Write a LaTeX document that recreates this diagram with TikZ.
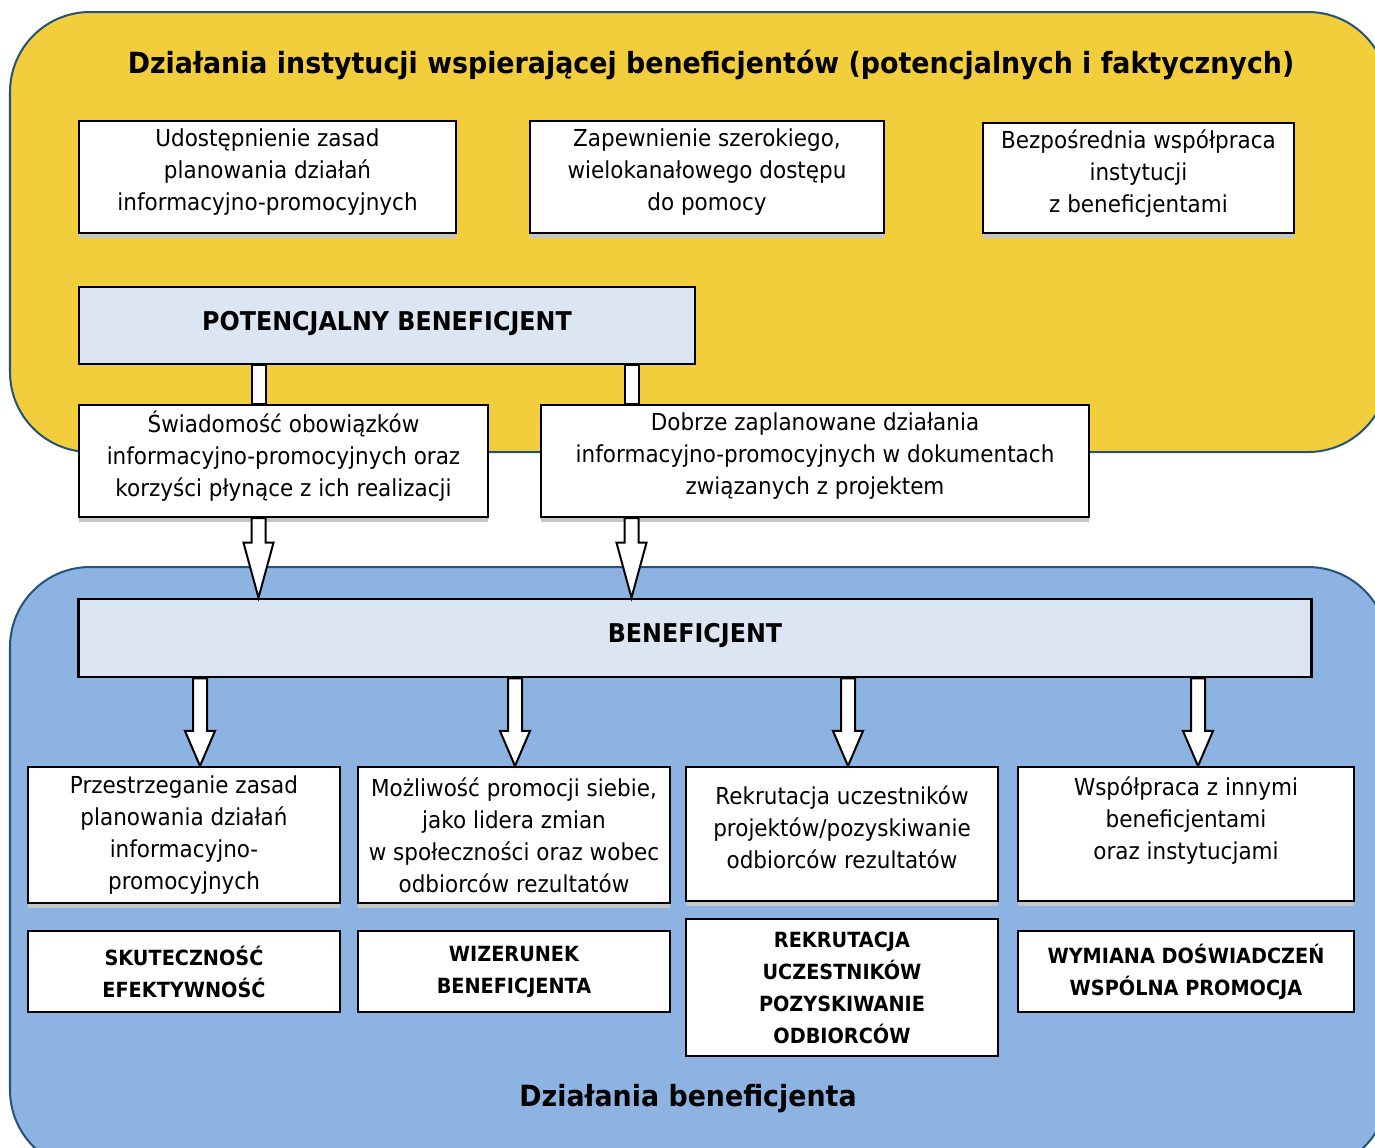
\documentclass[tikz,border=0pt]{standalone}
\usepackage{fontspec}
\setmainfont[FakeStretch=0.92]{DejaVu Sans}
\usetikzlibrary{calc,shadows}

\definecolor{zolty}{RGB}{242,206,60}
\definecolor{niebieski}{RGB}{141,179,226}
\definecolor{jasny}{RGB}{220,230,242}
\definecolor{ramka}{RGB}{36,82,122}

\tikzset{
  obszar/.style={draw=ramka, line width=0.02cm, rounded corners=0.8cm},
  tekst/.style={draw, fill=white, line width=0.02cm, align=center, inner sep=0pt,
    font=\fontsize{6.65}{9.1}\selectfont,
    drop shadow={shadow xshift=0pt, shadow yshift=-0.05cm, fill=gray!45, opacity=1}},
  trzy/.style={text depth=0.14cm},
  naglowek/.style={draw, fill=jasny, line width=0.025cm, align=center, inner sep=0pt,
    text depth=0.1cm, font=\bfseries\fontsize{7.35}{9.1}\selectfont},
  wynik/.style={draw, fill=white, line width=0.02cm, align=center, inner sep=0pt,
    font=\bfseries\fontsize{5.95}{9.1}\selectfont},
  tytul/.style={font=\bfseries\fontsize{8.3}{9}\selectfont},
  pasek/.style={draw, fill=white, line width=0.02cm},
}

% #1 dlugosc grotu, #2 poczatek, #3 grot
\newcommand{\strzalka}[3]{%
  \draw[pasek] ($(#2)+(-7,0)$) -- ($(#3)+(-7,-#1)$) -- ($(#3)+(-15,-#1)$) -- (#3)
    -- ($(#3)+(15,-#1)$) -- ($(#3)+(7,-#1)$) -- ($(#2)+(7,0)$) -- cycle;}

\begin{document}
\begin{tikzpicture}[x=0.01cm, y=-0.01cm]
  \useasboundingbox (0,0) rectangle (1375,1147);
  \clip (0,0) rectangle (1375,1147);

  % tla
  \draw[obszar, fill=zolty] (10,12) rectangle (1388,452);
  \draw[obszar, fill=niebieski] (10,567) rectangle (1388,1170);

  \node[tytul] (tytul1) at (711,65) {Działania instytucji wspierającej beneficjentów (potencjalnych i faktycznych)};
  \node[tytul] (tytul2) at (688,1099) {Działania beneficjenta};

  % instytucja
  \node[tekst, trzy, minimum width=3.77cm, minimum height=1.12cm] (udost) at (267.5,177)
    {Udostępnienie zasad\\planowania działań\\informacyjno-promocyjnych};
  \node[tekst, trzy, minimum width=3.54cm, minimum height=1.12cm] (zapewn) at (707,177)
    {Zapewnienie szerokiego,\\wielokanałowego dostępu\\do pomocy};
  \node[tekst, trzy, minimum width=3.11cm, minimum height=1.10cm] (bezpos) at (1138.5,178)
    {Bezpośrednia współpraca\\instytucji\\z beneficjentami};

  \node[naglowek, minimum width=6.16cm, minimum height=0.77cm] (potben) at (387,325.5)
    {POTENCJALNY BENEFICJENT};

  \node[tekst, trzy, minimum width=4.09cm, minimum height=1.12cm] (swiad) at (283.5,461)
    {Świadomość obowiązków\\informacyjno-promocyjnych oraz\\korzyści płynące z ich realizacji};
  \node[tekst, trzy, minimum width=5.48cm, minimum height=1.12cm] (dobrze) at (815,461)
    {Dobrze zaplanowane działania\\informacyjno-promocyjnych w dokumentach\\związanych z projektem};

  \node[naglowek, minimum width=12.32cm, minimum height=0.78cm] (benef) at (695,638)
    {BENEFICJENT};

  % beneficjent
  \node[tekst, minimum width=3.12cm, minimum height=1.36cm] (przestrz) at (184,835)
    {Przestrzeganie zasad\\planowania działań\\informacyjno-\\promocyjnych};
  \node[tekst, minimum width=3.12cm, minimum height=1.36cm] (mozliw) at (514,835)
    {Możliwość promocji siebie,\\jako lidera zmian\\w społeczności oraz wobec\\odbiorców rezultatów};
  \node[tekst, trzy, minimum width=3.12cm, minimum height=1.34cm] (rekrut) at (842,834)
    {Rekrutacja uczestników\\projektów/pozyskiwanie\\odbiorców rezultatów};
  \node[tekst, text depth=0cm, minimum width=3.36cm, minimum height=1.34cm] (wspolp) at (1186,834)
    {Współpraca z innymi\\beneficjentami\\oraz instytucjami\\~};

  \node[wynik, minimum width=3.12cm, minimum height=0.81cm] (skut) at (184,971.5)
    {SKUTECZNOŚĆ\\EFEKTYWNOŚĆ};
  \node[wynik, minimum width=3.12cm, minimum height=0.81cm] (wizer) at (514,971.5)
    {WIZERUNEK\\BENEFICJENTA};
  \node[wynik, minimum width=3.12cm, minimum height=1.37cm] (rekr) at (842,987.5)
    {REKRUTACJA\\UCZESTNIKÓW\\POZYSKIWANIE\\ODBIORCÓW};
  \node[wynik, minimum width=3.36cm, minimum height=0.81cm] (wymiana) at (1186,971.5)
    {WYMIANA DOŚWIADCZEŃ\\WSPÓLNA PROMOCJA};

  % polaczenia
  \coordinate (k1) at (258.5,0);
  \coordinate (k2) at (631.5,0);
  \draw[pasek] ($(potben.south -| k1)+(-7,0)$) rectangle ($(swiad.north -| k1)+(7,0)$);
  \draw[pasek] ($(potben.south -| k2)+(-7,0)$) rectangle ($(dobrze.north -| k2)+(7,0)$);
  \strzalka{55}{swiad.south -| k1}{benef.north -| k1}
  \strzalka{55}{dobrze.south -| k2}{benef.north -| k2}

  \coordinate (k3) at (200,0);
  \coordinate (k4) at (515,0);
  \coordinate (k5) at (848,0);
  \coordinate (k6) at (1198,0);
  \strzalka{35}{benef.south -| k3}{przestrz.north -| k3}
  \strzalka{35}{benef.south -| k4}{mozliw.north -| k4}
  \strzalka{35}{benef.south -| k5}{rekrut.north -| k5}
  \strzalka{35}{benef.south -| k6}{wspolp.north -| k6}
\end{tikzpicture}
\end{document}
